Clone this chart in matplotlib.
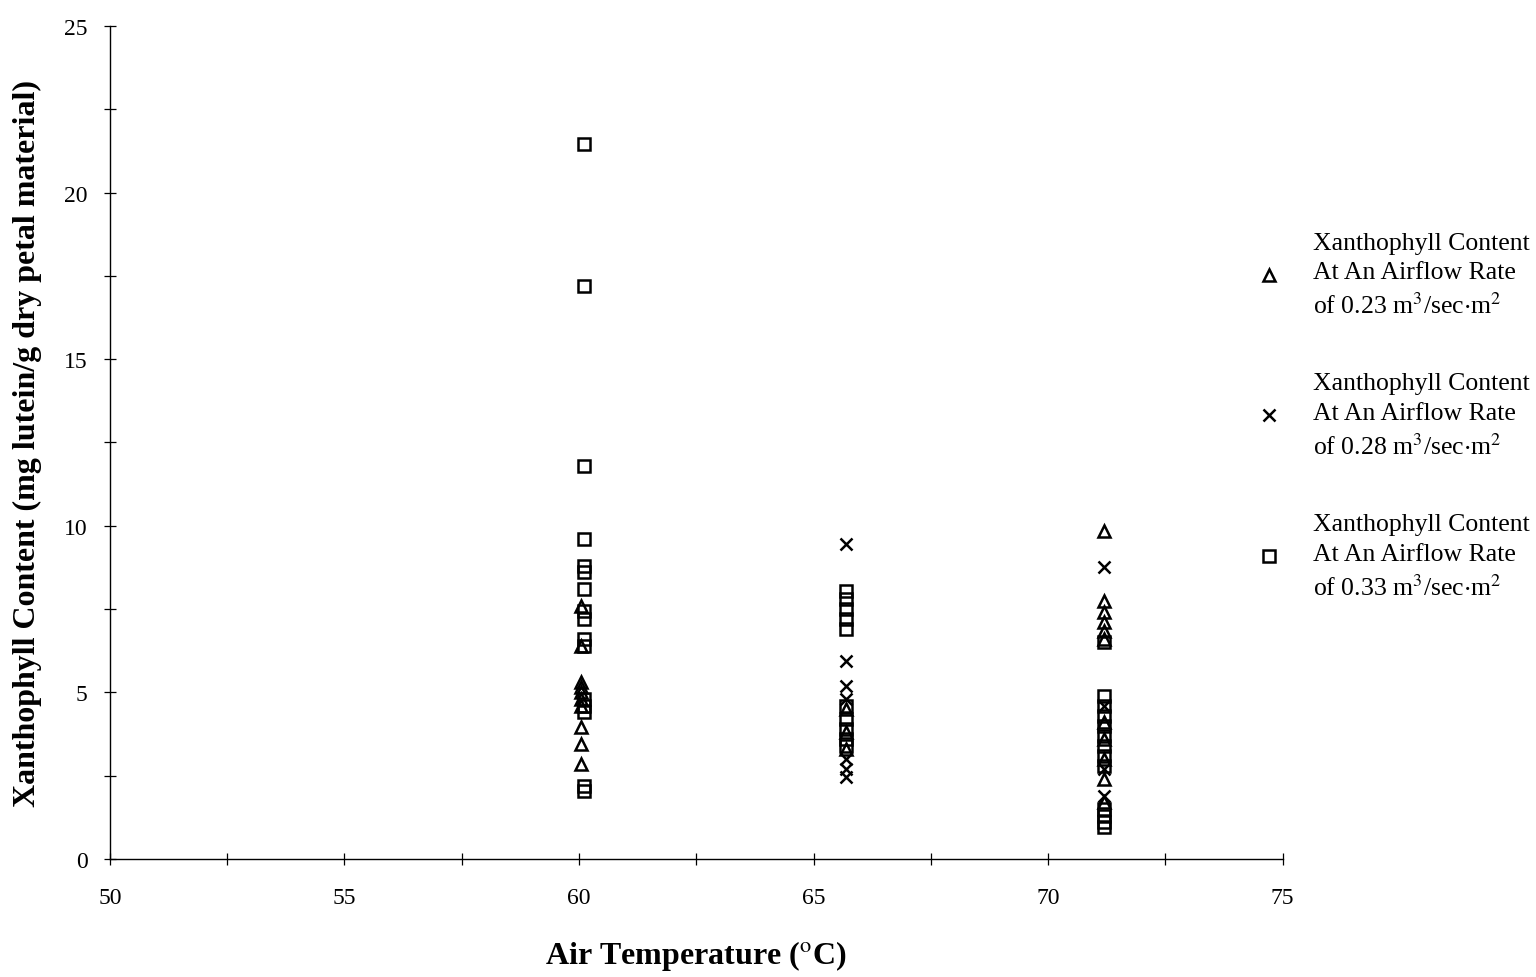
import matplotlib
matplotlib.use("Agg")
import matplotlib.pyplot as plt
from matplotlib.ticker import MultipleLocator

plt.rcParams['font.family'] = ['Liberation Serif', 'DejaVu Serif']
plt.rcParams['mathtext.fontset'] = 'stix'

# air temperature (oC) for each drying run group
temps = [60.1, 65.7, 71.2]

# xanthophyll content at airflow 0.23 m3/sec.m2
tri_x = [60.05] * 10 + [65.7] * 3 + [71.2] * 11
tri_y = [7.6, 6.4, 5.3, 5.15, 5.0, 4.8, 4.6, 3.95, 3.45, 2.85,
         4.5, 3.8, 3.3,
         9.85, 7.75, 7.4, 7.1, 6.85, 6.6, 4.1, 3.6, 3.0, 2.4, 1.7]

# xanthophyll content at airflow 0.28 m3/sec.m2
crs_x = [65.7] * 7 + [71.2] * 4
crs_y = [9.45, 5.95, 5.2, 4.8, 3.0, 2.7, 2.45,
         8.75, 4.6, 2.7, 1.9]

# xanthophyll content at airflow 0.33 m3/sec.m2
sq_x = [60.1] * 16 + [65.7] * 10 + [71.2] * 13
sq_y = [21.45, 17.2, 11.8, 9.6, 8.8, 8.6, 8.1, 7.45, 7.2, 6.6, 6.4, 4.8, 4.6, 4.4, 2.2, 2.05,
        8.05, 7.8, 7.5, 7.2, 6.9, 4.6, 4.2, 3.9, 3.6, 3.4,
        6.5, 4.9, 4.6, 4.3, 4.0, 3.7, 3.4, 3.1, 2.8, 1.5, 1.3, 1.1, 0.95]

labels = ["Xanthophyll Content\nAt An Airflow Rate\nof 0.23 m$^3$/sec$\\cdot$m$^2$",
          "Xanthophyll Content\nAt An Airflow Rate\nof 0.28 m$^3$/sec$\\cdot$m$^2$",
          "Xanthophyll Content\nAt An Airflow Rate\nof 0.33 m$^3$/sec$\\cdot$m$^2$"]

fig = plt.figure(figsize=(15.36, 9.78), dpi=100)
ax = fig.add_axes([0.0716, 0.1207, 0.7634, 0.8517])

ax.plot(tri_x, tri_y, linestyle='none', marker='^', markersize=9, markerfacecolor='none',
        markeredgecolor='black', markeredgewidth=1.8, label=labels[0])
ax.plot(crs_x, crs_y, linestyle='none', marker='x', markersize=9, color='black',
        markeredgewidth=1.8, label=labels[1])
ax.plot(sq_x, sq_y, linestyle='none', marker='s', markersize=9, markerfacecolor='none',
        markeredgecolor='black', markeredgewidth=1.8, label=labels[2])

ax.set_xlim(50, 75)
ax.set_ylim(0, 25)
ax.xaxis.set_major_locator(MultipleLocator(5))
ax.xaxis.set_minor_locator(MultipleLocator(2.5))
ax.yaxis.set_major_locator(MultipleLocator(5))
ax.yaxis.set_minor_locator(MultipleLocator(2.5))

for s in ['top', 'right']:
    ax.spines[s].set_visible(False)
for s in ['left', 'bottom']:
    ax.spines[s].set_linewidth(1.0)

ax.tick_params(which='both', direction='inout', length=8, width=0.9, labelsize=17)
ax.tick_params(axis='x', pad=16)
ax.tick_params(axis='y', pad=12)

ax.set_xlabel(r"Air Temperature ($^{\rm o}$C)", fontsize=23, fontweight='bold', labelpad=22)
ax.set_ylabel("Xanthophyll Content (mg lutein/g dry petal material)", fontsize=23,
              fontweight='bold', labelpad=16)

leg = fig.legend(loc='center left', bbox_to_anchor=(0.818, 0.574), frameon=False, fontsize=18.5,
                 handlelength=1.0, handletextpad=1.2, labelspacing=2.1, borderpad=0,
                 borderaxespad=0)
for t in leg.get_texts():
    t.set_linespacing(1.45)

fig.savefig("out.png", dpi=100, facecolor='white')
